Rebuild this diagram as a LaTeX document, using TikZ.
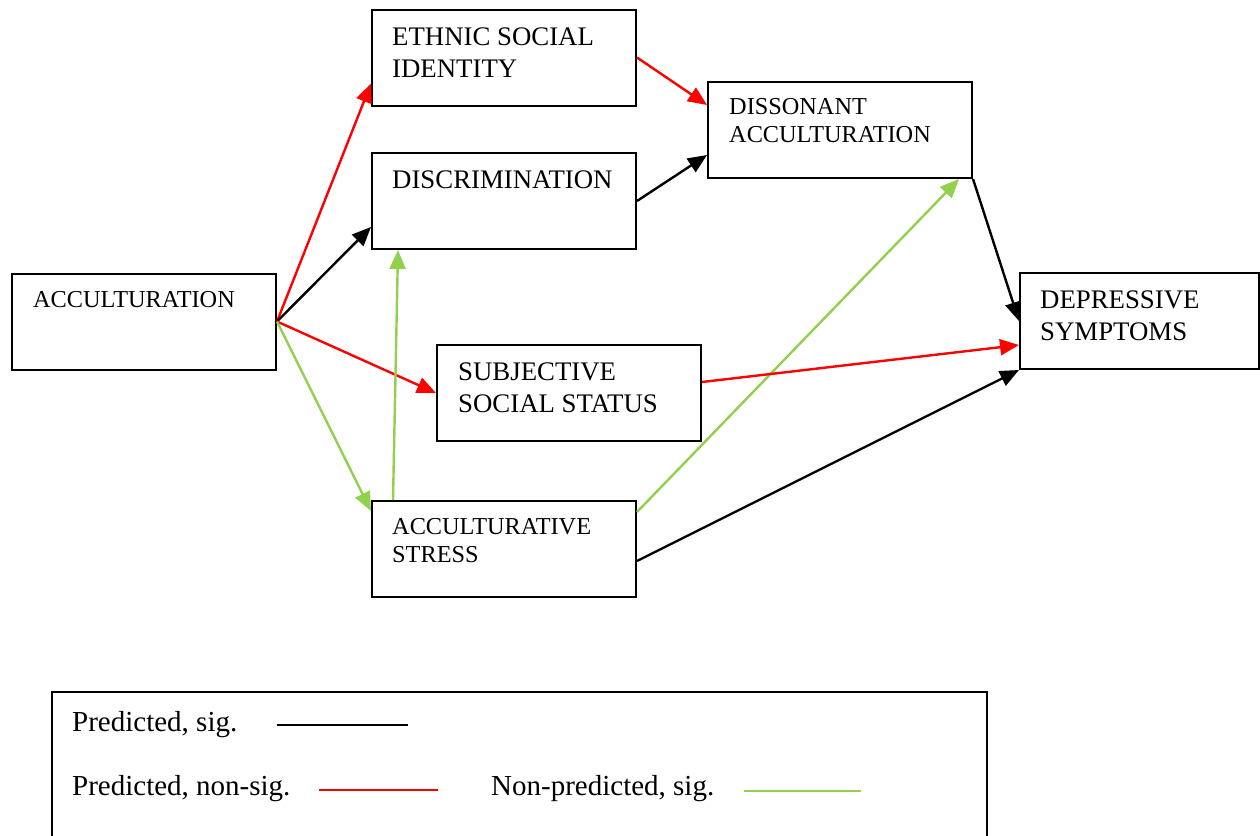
\documentclass[tikz,border=0pt]{standalone}
\usepackage{fontspec}
\setmainfont{Liberation Serif}
\usetikzlibrary{arrows.meta,calc}
\definecolor{sigred}{HTML}{FF0000}
\definecolor{siggreen}{HTML}{92D050}
\tikzset{
  box/.style={draw=black, line width=2pt, rectangle, minimum width=264pt, minimum height=96pt, inner sep=0pt},
  bigtxt/.style={anchor=north west, inner sep=0pt, align=left, font=\fontsize{26.8}{32}\selectfont},
  smalltxt/.style={anchor=north west, inner sep=0pt, align=left, font=\fontsize{24.3}{28}\selectfont},
  legtxt/.style={anchor=base west, inner sep=0pt, font=\fontsize{29}{34}\selectfont},
  conn/.style={line width=2.4pt, -{Triangle[length=19pt,width=16pt]}},
  blk/.style={conn, draw=black},
  red/.style={conn, draw=sigred, -{Triangle[length=19pt,width=16pt,fill=sigred]}},
  grn/.style={conn, draw=siggreen, -{Triangle[length=19pt,width=16pt,fill=siggreen]}},
  legline/.style={line width=2.6pt}
}
\begin{document}
\begin{tikzpicture}[x=1pt,y=-1pt]
\useasboundingbox (0,0) rectangle (1260,835);
\clip (0,0) rectangle (1260,835);
\fill[white] (0,0) rectangle (1260,835);

% boxes
\node[box] (acc) at (144,321.5) {};
\node[box] (ethnic) at (504,57.5) {};
\node[box] (discr) at (504,201) {};
\node[box] (disso) at (840,130) {};
\node[box, minimum width=239pt] (depr) at (1139.5,321) {};
\node[box] (subj) at (569,393) {};
\node[box] (stress) at (504,549) {};

% texts
\node[smalltxt] (tacc) at (33,291.5) {ACCULTURATION};
\node[bigtxt] (tethnic) at (392,27.5) {ETHNIC SOCIAL\\IDENTITY};
\node[bigtxt] (tdiscr) at (392,170.5) {DISCRIMINATION};
\node[smalltxt] (tdisso) at (729,98.5) {DISSONANT\\ACCULTURATION};
\node[bigtxt] (tdepr) at (1040,290.5) {DEPRESSIVE\\SYMPTOMS};
\node[bigtxt] (tsubj) at (458,362.5) {SUBJECTIVE\\SOCIAL STATUS};
\node[smalltxt] (tstress) at (392,518.5) {ACCULTURATIVE\\STRESS};

% connectors
\draw[red] (acc.east) -- ([yshift=23pt]ethnic.south west);
\draw[blk] (acc.east) -- ([yshift=23pt]discr.south west);
\draw[red] (acc.east) -- (subj.west);
\draw[grn] (acc.east) -- ([yshift=-11pt]stress.north west);
\draw[grn] ([xshift=22pt]stress.north west) -- ([xshift=27pt]discr.south west);
\draw[red] (ethnic.east) -- ([yshift=25pt]disso.west);
\draw[blk] (discr.east) -- ([yshift=-25pt]disso.west);
\draw[grn] ([yshift=-12pt]stress.north east) -- ([xshift=-14pt]disso.south east);
\draw[blk] (disso.south east) -- (depr.west);
\draw[red] ([yshift=11pt]subj.east) -- ([yshift=-24pt]depr.west);
\draw[blk] ([yshift=-12pt]stress.east) -- (depr.south west);

% legend
\node[draw=black, line width=2pt, rectangle, minimum width=935pt, minimum height=170pt, inner sep=0pt] (legend) at (519.5,777) {};
\node[legtxt] (l1) at (72,731.5) {Predicted, sig.};
\node[legtxt] (l2) at (72,795) {Predicted, non-sig.};
\node[legtxt] (l3) at (491,795) {Non-predicted, sig.};
\coordinate (b1) at (277,725);
\coordinate (b2) at (408,725);
\coordinate (r1) at (319,790);
\coordinate (r2) at (438,790);
\coordinate (g1) at (744,791);
\coordinate (g2) at (861,791);
\draw[legline, black] (b1) -- (b2);
\draw[legline, sigred] (r1) -- (r2);
\draw[legline, siggreen] (g1) -- (g2);
\end{tikzpicture}
\end{document}
